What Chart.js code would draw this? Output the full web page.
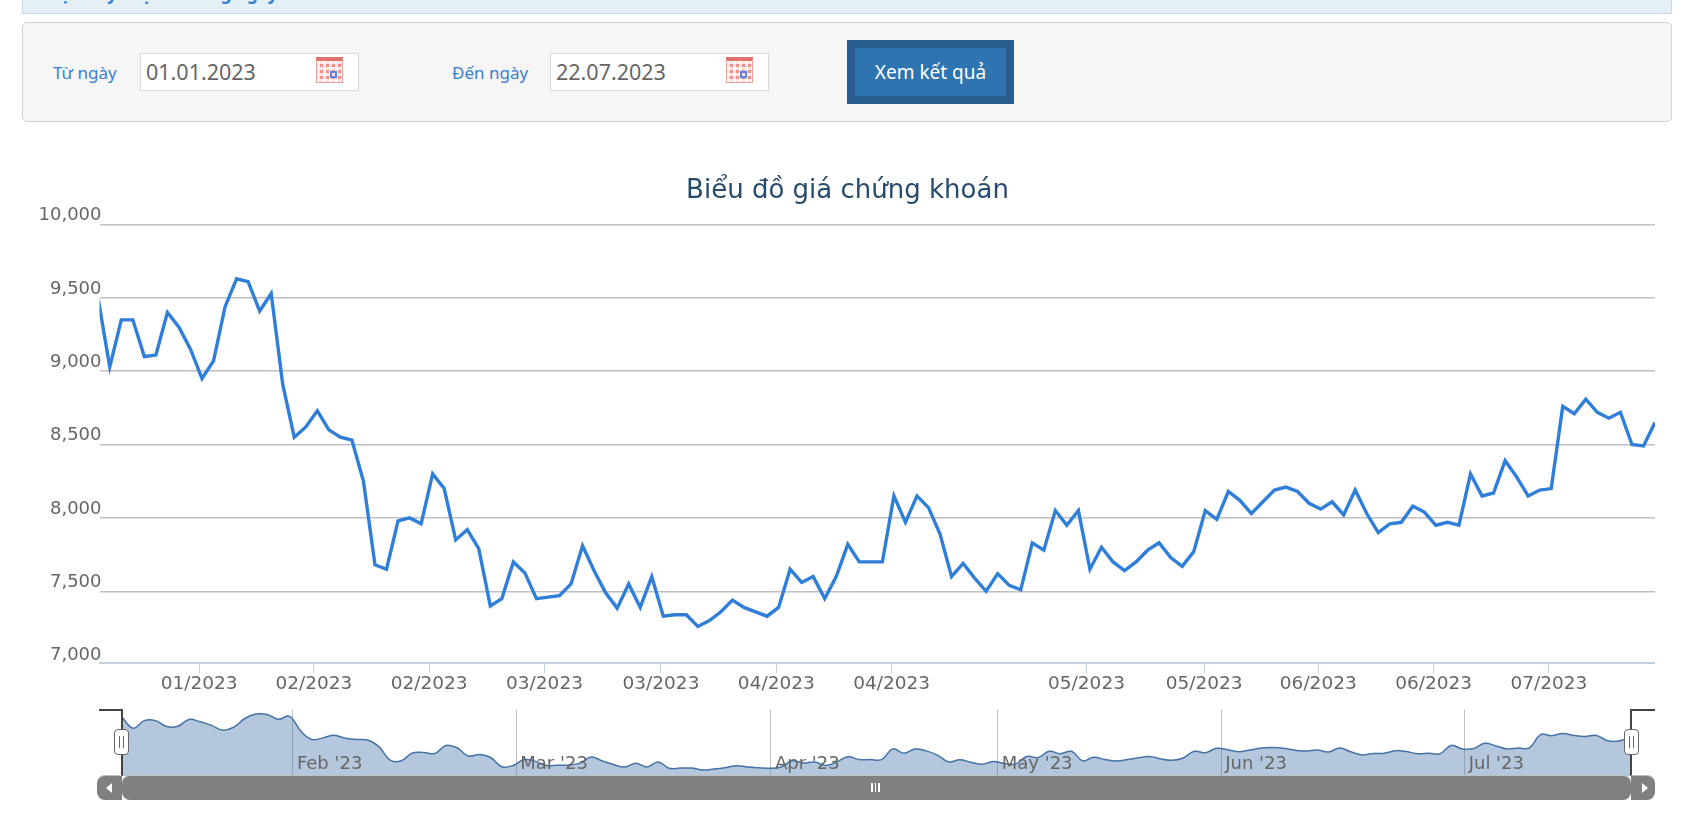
<!DOCTYPE html>
<html lang="vi">
<head>
<meta charset="utf-8">
<title>Biểu đồ giá chứng khoán</title>
<script src="https://cdn.jsdelivr.net/npm/chart.js@4"></script>
<style>
  html, body { margin: 0; padding: 0; background: #fff; overflow: hidden; }
  body { position: relative; width: 1705px; height: 815px; font-family: 'Noto Sans', sans-serif; }
  .abs { position: absolute; box-sizing: border-box; }
  #notice { left: 22px; top: -1px; width: 1650px; height: 15px; background: #e4f0f6; border: 1px solid #c8dbe4; overflow: hidden; }
  #notice span { position: absolute; left: 26px; top: -16px; color: #2f7ed8; font-size: 17px; font-weight: bold; line-height: 20px; white-space: nowrap; }
  #panel { left: 22px; top: 22px; width: 1650px; height: 100px; background: #f6f6f6; border: 1px solid #d2d2d2; border-radius: 5px; }
  .lbl { color: #3a7fd0; font-size: 17px; line-height: 22px; top: 62px; white-space: nowrap; }
  .date { top: 53px; width: 219px; height: 38px; background: #fff; border: 1px solid #d8d8d8; color: #666; font-size: 21.5px; line-height: 36px; padding-left: 5px; }
  .cal { top: 57px; width: 27px; height: 26px; border: 1px solid #e8a09c; border-top: 4px solid #e0706c;
    background: repeating-linear-gradient(90deg, rgba(255,255,255,.75) 0 3px, transparent 3px 6px),
                repeating-linear-gradient(0deg, rgba(255,255,255,.75) 0 3px, transparent 3px 6px), #f0928e; }
  .cal::after { content: ''; position: absolute; right: 5px; bottom: 4px; width: 7px; height: 7px; box-sizing: border-box; border: 2px solid #5b82e0; }
  #btn { left: 847px; top: 40px; width: 167px; height: 64px; background: #2e74b0; border: solid #2a5d8f; border-width: 8px; color: #fff; font-size: 19px; line-height: 48px; text-align: center; }
  #mainChart { position: absolute; left: 0; top: 170px; }
  #navChart { position: absolute; left: 0; top: 700px; }
  .rail { background: #444; }
  .handle { top: 729px; width: 15px; height: 26px; background: #fff; border: 1px solid #666; border-radius: 4px; }
  .handle::after { content: ''; position: absolute; left: 4px; top: 6px; width: 5px; height: 12px; box-sizing: border-box; border-left: 1px solid #666; border-right: 1px solid #666; }
  .bar { top: 775px; height: 25px; background: #808080; border-top: 1px solid #c0c0c0; }
  .tri { width: 0; height: 0; border-style: solid; }
</style>
</head>
<body>
<div class="abs" id="notice"><span>Bạn hãy chọn khoảng ngày</span></div>
<div class="abs" id="panel"></div>
<div class="abs lbl" style="left:53px">Từ ngày</div>
<div class="abs date" style="left:140px">01.01.2023</div>
<div class="abs cal" style="left:316px"></div>
<div class="abs lbl" style="left:452px">Đến ngày</div>
<div class="abs date" style="left:550px">22.07.2023</div>
<div class="abs cal" style="left:726px"></div>
<div class="abs" id="btn">Xem kết quả</div>

<canvas id="mainChart" width="1655" height="540"></canvas>
<canvas id="navChart" width="1705" height="115"></canvas>

<!-- navigator handles and scrollbar -->
<div class="abs rail" style="left:99px;top:709px;width:24px;height:2px"></div>
<div class="abs rail" style="left:121px;top:709px;width:2px;height:67px"></div>
<div class="abs rail" style="left:1630px;top:709px;width:25px;height:2px"></div>
<div class="abs rail" style="left:1630px;top:709px;width:2px;height:67px"></div>
<div class="abs handle" style="left:114px"></div>
<div class="abs handle" style="left:1624px"></div>
<div class="abs bar" style="left:97px;width:25px;border-radius:8px 0 0 8px"></div>
<div class="abs bar" style="left:122px;width:1509px;border-radius:8px"></div>
<div class="abs bar" style="left:1631px;width:24px;border-radius:0 8px 8px 0"></div>
<div class="abs tri" style="left:106px;top:783px;border-width:5px 6px 5px 0;border-color:transparent #fff transparent transparent"></div>
<div class="abs tri" style="left:1642px;top:783px;border-width:5px 0 5px 6px;border-color:transparent transparent transparent #fff"></div>
<div class="abs" style="left:871px;top:783px;width:9px;height:9px;border-left:2px solid #fff;border-right:2px solid #fff"></div>
<div class="abs" style="left:875px;top:783px;width:1px;height:9px;background:#fff"></div>

<script>
// Closing prices, one per trading session
const prices = [
  9490, 9030, 9350, 9350, 9100, 9110, 9400, 9300, 9150, 8950,
  9070, 9440, 9630, 9610, 9410, 9530, 8910, 8550, 8620, 8730,
  8600, 8550, 8530, 8250, 7680, 7650, 7980, 8000, 7960, 8300,
  8200, 7850, 7920, 7790, 7400, 7450, 7700, 7625, 7450, 7460,
  7470, 7550, 7810, 7640, 7490, 7385, 7550, 7390, 7600, 7330,
  7340, 7340, 7260, 7300, 7360, 7440, 7390, 7360, 7330, 7390,
  7650, 7560, 7600, 7450, 7600, 7820, 7700, 7700, 7700, 8150,
  7970, 8150, 8070, 7890, 7600, 7690, 7590, 7500, 7620, 7540,
  7510, 7830, 7780, 8050, 7950, 8050, 7650, 7800, 7700, 7640,
  7700, 7780, 7830, 7730, 7670, 7770, 8050, 7990, 8180, 8120,
  8030, 8110, 8190, 8210, 8180, 8100, 8060, 8110, 8020, 8190,
  8030, 7900, 7960, 7970, 8080, 8040, 7950, 7970, 7950, 8300,
  8150, 8170, 8390, 8280, 8150, 8190, 8200, 8760, 8710, 8810,
  8720, 8680, 8720, 8500, 8490, 8650,
];

const yTicks = [7000, 7500, 8000, 8500, 9000, 9500, 10000];
const yTickLabels = ['7,000', '7,500', '8,000', '8,500', '9,000', '9,500', '10,000'];

// x ticks sit between sessions, so they are given in session units
const xTicks = [8.75, 18.7, 28.7, 38.7, 48.8, 58.8, 68.8, 85.7, 95.9, 105.8, 115.8, 125.8];
const xTickLabels = ['01/2023', '02/2023', '02/2023', '03/2023', '03/2023', '04/2023', '04/2023', '05/2023', '05/2023', '06/2023', '06/2023', '07/2023'];

const navTicks = [15.3, 35.3, 58.1, 78.4, 98.4, 120.2];
const navTickLabels = ["Feb '23", "Mar '23", "Apr '23", "May '23", "Jun '23", "Jul '23"];

const points = prices.map((p, i) => ({ x: i, y: p }));

const FONT = 'DejaVu Sans';
const COLORS = {
  line: '#2f7ed8',
  grid: '#c0c0c0',
  axis: '#c0d0e0',
  text: '#666666',
  title: '#274b6d',
  nav: '#4572a7',
  navFill: 'rgba(69,114,167,0.4)',
};

// Chart.js clips tick labels to the scale box; these labels sit outside it
function noLabelClip(scale) {
  scale._computeLabelArea = () => undefined;
}

new Chart(document.getElementById('mainChart'), {
  type: 'line',
  data: {
    datasets: [{
      data: points,
      borderColor: COLORS.line,
      borderWidth: 3.4,
      borderJoinStyle: 'miter',
      pointRadius: 0,
      tension: 0,
    }],
  },
  options: {
    responsive: false,
    animation: false,
    // left padding keeps the title centred where the source has it
    layout: { padding: { left: 40 } },
    plugins: {
      legend: { display: false },
      tooltip: { enabled: false },
      title: {
        display: true,
        text: 'Biểu đồ giá chứng khoán',
        color: COLORS.title,
        font: { family: FONT, size: 26, weight: 'normal', lineHeight: 1.2 },
        padding: { top: 5.9, bottom: 17.4 },
      },
    },
    scales: {
      x: {
        type: 'linear',
        min: 0.11,
        max: 135,
        afterBuildTicks: s => { s.ticks = xTicks.map(value => ({ value })); },
        afterFit: s => { s.height = 47; },
        grid: { drawOnChartArea: false, color: COLORS.axis, tickLength: 10 },
        border: { color: COLORS.axis, width: 2 },
        ticks: {
          color: COLORS.text,
          font: { family: FONT, size: 18.5 },
          padding: 0,
          autoSkip: false,
          maxRotation: 0,
          callback: (v, i) => xTickLabels[i],
        },
      },
      y: {
        // the bottom axis line sits just above 7,000 in the source
        min: 7011,
        max: 10000,
        afterBuildTicks: s => { s.ticks = yTicks.map(value => ({ value })); },
        afterFit: s => { s.width = 59.5; noLabelClip(s); },
        grid: {
          drawTicks: false,
          lineWidth: 1.5,
          color: c => (c.tick && c.tick.value === 7000 ? 'rgba(0,0,0,0)' : COLORS.grid),
        },
        border: { display: false },
        ticks: {
          color: COLORS.text,
          font: { family: FONT, size: 18, lineHeight: 0.98 },
          padding: -2,
          // empty second line lifts the label above its grid line
          callback: (v, i) => [yTickLabels[i], ''],
        },
      },
    },
  },
});

new Chart(document.getElementById('navChart'), {
  type: 'line',
  data: {
    datasets: [{
      data: points,
      borderColor: COLORS.nav,
      borderWidth: 1.5,
      backgroundColor: COLORS.navFill,
      fill: 'start',
      pointRadius: 0,
      tension: 0.4,
    }],
  },
  options: {
    responsive: false,
    animation: false,
    layout: { padding: { left: 122, right: 75, top: 10, bottom: 39 } },
    plugins: { legend: { display: false }, tooltip: { enabled: false } },
    scales: {
      x: {
        type: 'linear',
        min: 0,
        max: 135,
        afterBuildTicks: s => { s.ticks = navTicks.map(value => ({ value })); },
        afterFit: s => { s.height = 0; noLabelClip(s); },
        grid: { color: COLORS.grid, drawTicks: false },
        border: { display: false },
        ticks: {
          color: COLORS.text,
          font: { family: FONT, size: 18 },
          align: 'start',
          labelOffset: 4,
          padding: -22,
          maxRotation: 0,
          z: 1,
          callback: (v, i) => navTickLabels[i],
        },
      },
      y: { display: false, min: 7006, max: 9800 },
    },
  },
});
</script>
</body>
</html>
